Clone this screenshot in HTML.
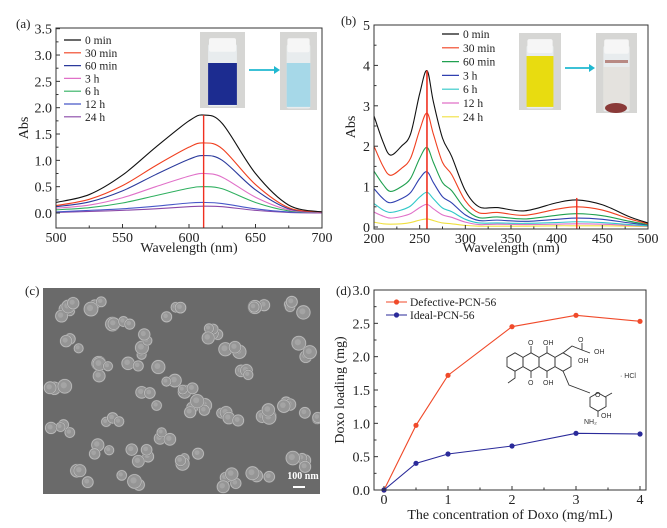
<!DOCTYPE html>
<html><head><meta charset="utf-8">
<style>
html,body{margin:0;padding:0;background:#fff;}
svg{display:block;font-family:"Liberation Serif",serif;}
</style></head>
<body>
<svg id="fig" width="667" height="528" viewBox="0 0 667 528" xmlns="http://www.w3.org/2000/svg">
 <g id="pa"></g>
 <g id="pb"></g>
 <g id="pc"></g>
 <g id="pd"></g>
</svg>
<script>
// ---------- Panel (a) data ----------
const aWave = [500,525,550,575,600,611,625,650,675,700];
const aLabels = ["0 min","30 min","60 min","3 h","6 h","12 h","24 h"];
const aColors = ["#111","#f04020","#2b3a9c","#e070c8","#30b060","#4858c8","#8a48a8"];
const aS0 = [.2,.35,.72,1.25,1.75,1.86,1.7,.75,.15,.02];
const aS1 = [.14,.26,.52,.9,1.25,1.33,1.22,.54,.1,.02];
const aS2 = [.12,.21,.42,.73,1.02,1.09,1.0,.44,.08,.02];
const aS3 = [.09,.15,.29,.5,.7,.75,.68,.3,.06,.01];
const aS4 = [.06,.1,.19,.33,.47,.5,.46,.2,.04,.01];
const aS5 = [.02,.05,.08,.13,.19,.2,.18,.08,.02,.01];
const aS6 = [.01,.03,.05,.08,.12,.13,.12,.05,.01,0];
const aXTicks = [500,550,600,650,700];
const aYTicks = [0,0.5,1,1.5,2,2.5,3,3.5];
// ---------- Panel (b) data ----------
const bWave = [200,210,218,230,240,250,258,265,275,285,300,315,335,365,400,422,450,480,500];
const bLabels = ["0 min","30 min","60 min","3 h","6 h","12 h","24 h"];
const bColors = ["#111","#f04020","#20a050","#3040b0","#30c8c8","#e070c8","#f0e040"];
const bS0 = [2.75,2.1,1.78,2.0,2.3,3.3,3.87,3.1,2.2,1.75,0.9,0.5,0.48,0.4,0.6,0.67,0.55,0.25,0.1];
const bS1 = [2.0,1.5,1.28,1.45,1.7,2.4,2.82,2.3,1.6,1.3,0.65,0.35,0.36,0.29,0.44,0.5,0.42,0.2,0.08];
const bS2 = [1.38,1.05,0.88,1.0,1.2,1.7,1.97,1.6,1.1,0.9,0.45,0.23,0.25,0.2,0.29,0.33,0.28,0.14,0.06];
const bS3 = [0.95,0.7,0.6,0.7,0.85,1.2,1.37,1.1,0.75,0.6,0.3,0.16,0.17,0.14,0.19,0.22,0.19,0.1,0.05];
const bS4 = [0.58,0.42,0.36,0.42,0.52,0.74,0.86,0.7,0.47,0.38,0.19,0.1,0.1,0.09,0.11,0.13,0.11,0.06,0.03];
const bS5 = [0.37,0.27,0.22,0.26,0.33,0.48,0.56,0.45,0.3,0.24,0.12,0.06,0.07,0.06,0.07,0.08,0.07,0.04,0.02];
const bS6 = [0.12,0.08,0.07,0.08,0.11,0.17,0.2,0.16,0.1,0.08,0.04,0.02,0.02,0.02,0.03,0.03,0.03,0.02,0.01];
const bXTicks = [200,250,300,350,400,450,500];
const bYTicks = [0,1,2,3,4,5];
// ---------- Panel (d) data ----------
const dConc = [0,0.5,1,2,3,4];
const dDefective = [0,0.97,1.72,2.45,2.62,2.53];
const dIdeal = [0,0.40,0.54,0.66,0.85,0.84];
const dXTicks = [0,1,2,3,4];
const dYTicks = [0,0.5,1,1.5,2,2.5,3];

const NS="http://www.w3.org/2000/svg";
function mk(parent,tag,attrs,text){const e=document.createElementNS(NS,tag);for(const k in attrs)e.setAttribute(k,attrs[k]);if(text!==undefined)e.textContent=text;parent.appendChild(e);return e;}
function scale(d0,d1,r0,r1){return v=>r0+(v-d0)/(d1-d0)*(r1-r0);}
function smooth(pts){let d="M"+pts[0][0]+","+pts[0][1];for(let i=0;i<pts.length-1;i++){const p0=pts[Math.max(0,i-1)],p1=pts[i],p2=pts[i+1],p3=pts[Math.min(pts.length-1,i+2)];const c1=[p1[0]+(p2[0]-p0[0])/6,p1[1]+(p2[1]-p0[1])/6],c2=[p2[0]-(p3[0]-p1[0])/6,p2[1]-(p3[1]-p1[1])/6];d+=" C"+c1[0].toFixed(2)+","+c1[1].toFixed(2)+" "+c2[0].toFixed(2)+","+c2[1].toFixed(2)+" "+p2[0].toFixed(2)+","+p2[1].toFixed(2);}return d;}
function fmt(v,dec){return v.toFixed(dec);}

function axes(g,o){
  const {x0,x1,y0,y1,sx,sy,xt,yt,xdec,ydec,xtitle,ytitle,ytx,xty,xly}=o;
  const frame=mk(g,'rect',{x:x0,y:y0,width:x1-x0,height:y1-y0,fill:'none',stroke:'#333','stroke-width':1});
  
  
  xt.forEach((v,i)=>{const x=sx(v);
    const t=mk(g,'line',{x1:x,x2:x,y1:y1,y2:y1-4,stroke:'#333'});
    
    
    if(i<xt.length-1){const xm=sx((v+xt[i+1])/2);mk(g,'line',{x1:xm,x2:xm,y1:y1,y2:y1-2.5,stroke:'#333'});}
    const l=mk(g,'text',{x:x,y:y1+xly,'text-anchor':'middle','font-size':14,fill:'#222'},fmt(v,xdec));
    
    
  });
  yt.forEach((v,i)=>{const y=sy(v);
    const t=mk(g,'line',{x1:x0,x2:x0+4,y1:y,y2:y,stroke:'#333'});
    
    
    if(i<yt.length-1){const ym=sy((v+yt[i+1])/2);mk(g,'line',{x1:x0,x2:x0+2.5,y1:ym,y2:ym,stroke:'#333'});}
    const l=mk(g,'text',{x:x0-4,y:y+5,'text-anchor':'end','font-size':14,fill:'#222'},fmt(v,ydec));
    
    
  });
  const xtl=mk(g,'text',{x:(x0+x1)/2,y:xty,'text-anchor':'middle','font-size':14,fill:'#222'},xtitle);
  
  
  const ytl=mk(g,'text',{x:0,y:0,'text-anchor':'middle','font-size':14,fill:'#222',transform:`translate(${ytx},${(y0+y1)/2}) rotate(-90)`},ytitle);
  
  
}
function legend(g,labels,colors,x,y,dy,lw){
  labels.forEach((lab,i)=>{
    const row=mk(g,'g',{});
    
    
    mk(row,'line',{x1:x,x2:x+lw,y1:y+i*dy,y2:y+i*dy,stroke:colors[i],'stroke-width':1.2});
    mk(row,'text',{x:x+lw+4,y:y+i*dy+4,'font-size':11.5,fill:'#222'},lab);
  });
}
function vial(g,x,y,w,h,liquid,top,name){
  const v=mk(g,'g',{});
  
  
  mk(v,'rect',{x:x,y:y,width:w,height:h,fill:'#d6d6d4'});
  mk(v,'rect',{x:x+w*0.18,y:y+h*0.16,width:w*0.64,height:h*0.82,fill:'#e8ecee',rx:2});
  mk(v,'rect',{x:x+w*0.2,y:y+h*0.08,width:w*0.6,height:h*0.18,fill:'#f6f6f6',rx:2});
  mk(v,'rect',{x:x+w*0.18,y:y+top,width:w*0.64,height:h*0.96-top,fill:liquid});
}

// ---------- Panel a ----------
(function(){
  const g=document.getElementById('pa');
  const x0=56,x1=322,y0=28,y1=228;
  const sx=scale(500,700,x0,x1), sy=scale(0,3.5,213,28.7);
  vial(g,200,32,45,76,'#1c2c90',31,'photo-before-blue');
  vial(g,280,32,37,78,'#a6d8e8',31,'photo-after-blue');
  const ar=mk(g,'g',{});
  mk(ar,'line',{x1:249,x2:275,y1:70,y2:70,stroke:'#20b8d0','stroke-width':1.8});
  mk(ar,'path',{d:'M274,66 L280,70 L274,74 Z',fill:'#20b8d0'});
  const series=[aS0,aS1,aS2,aS3,aS4,aS5,aS6];
  series.slice().reverse().forEach((s,ri)=>{const i=series.length-1-ri;
    const p=mk(g,'path',{d:smooth(aWave.map((w,j)=>[sx(w),sy(s[j])])),fill:'none',stroke:aColors[i],'stroke-width':1.1});
    
    
  });
  const rl=mk(g,'line',{x1:sx(611),x2:sx(611),y1:sy(aS0[5]),y2:y1,stroke:'#f03020','stroke-width':1.4});
  
  
  axes(g,{x0,x1,y0,y1,sx,sy,xt:aXTicks,yt:aYTicks,xdec:0,ydec:1,xtitle:'Wavelength (nm)',ytitle:'Abs',ytx:28,xty:252,xly:14});
  legend(g,aLabels,aColors,64,40,12.8,17);
  const lab=mk(g,'text',{x:16,y:28,'font-size':13,fill:'#222'},'(a)');
  
})();

// ---------- Panel b ----------
(function(){
  const g=document.getElementById('pb');
  const x0=374,x1=648,y0=25,y1=229;
  const sx=scale(200,500,x0,x1), sy=scale(0,5,227,25);
  vial(g,519,33,42,77,'#e8dc10',23,'photo-before-yellow');
  vial(g,596,33,41,80,'#e4e2de',34,'photo-after-red');
  mk(g,'ellipse',{cx:616,cy:108,rx:11,ry:5,fill:'#8a3a38'});
  mk(g,'rect',{x:605,y:60,width:23,height:3,fill:'#b88a84'});
  const ar=mk(g,'g',{});
  mk(ar,'line',{x1:565,x2:590,y1:68,y2:68,stroke:'#20b8d0','stroke-width':1.8});
  mk(ar,'path',{d:'M589,64 L595,68 L589,72 Z',fill:'#20b8d0'});
  const series=[bS0,bS1,bS2,bS3,bS4,bS5,bS6];
  series.slice().reverse().forEach((s,ri)=>{const i=series.length-1-ri;
    const p=mk(g,'path',{d:smooth(bWave.map((w,j)=>[sx(w),sy(s[j])])),fill:'none',stroke:bColors[i],'stroke-width':1.1});
    
    
  });
  const r1=mk(g,'line',{x1:sx(258),x2:sx(258),y1:sy(bS0[6]),y2:y1,stroke:'#f03020','stroke-width':1.6});
  
  const r2=mk(g,'line',{x1:sx(422),x2:sx(422),y1:sy(bS0[15])-2,y2:y1,stroke:'#f03020','stroke-width':1.4});
  
  axes(g,{x0,x1,y0,y1,sx,sy,xt:bXTicks,yt:bYTicks,xdec:0,ydec:0,xtitle:'Wavelength (nm)',ytitle:'Abs',ytx:355,xty:252,xly:14});
  legend(g,bLabels,bColors,442,34,13.8,17);
  const lab=mk(g,'text',{x:341,y:25,'font-size':13,fill:'#222'},'(b)');
  
})();

// ---------- Panel c (SEM image) ----------
(function(){
  const g=document.getElementById('pc');
  const x0=43,y0=288,w=277,h=206;
  mk(g,'rect',{x:x0,y:y0,width:w,height:h,fill:'#6a6a6a'});
  const clip=mk(g,'clipPath',{id:'semclip'});mk(clip,'rect',{x:x0,y:y0,width:w,height:h});
  const pg=mk(g,'g',{'clip-path':'url(#semclip)'});
  // approximate cluster centres of particles (image texture, not data)
  const clusters=[[70,310,5],[100,302,3],[120,325,4],[175,310,3],[210,335,5],[255,308,3],[230,345,4],[60,390,4],[100,370,4],[135,360,3],
   [150,400,4],[190,395,3],[200,408,5],[230,420,4],[270,410,4],[300,350,3],[285,400,3],[60,430,4],[100,450,3],[140,455,4],
   [165,440,3],[190,460,4],[80,475,3],[130,480,3],[230,480,4],[260,475,3],[300,460,4],[310,420,3],[145,340,3],[245,375,3],
   [300,305,4],[165,375,3],[110,420,3],[75,345,3]];
  let seed=7;function rnd(){seed=(seed*9301+49297)%233280;return seed/233280;}
  clusters.forEach(c=>{for(let k=0;k<c[2];k++){
    const cx=c[0]+(rnd()-0.5)*20, cy=c[1]+(rnd()-0.5)*16, r=4.5+rnd()*2.5;
    mk(pg,'circle',{cx:cx,cy:cy,r:r+0.8,fill:'#7e7e7e'});
    mk(pg,'circle',{cx:cx,cy:cy,r:r,fill:'#959595',stroke:'#bdbdbd','stroke-width':0.8});
    mk(pg,'circle',{cx:cx-1,cy:cy-1,r:r*0.45,fill:'#a4a4a4'});
  }});
  const sb=mk(g,'text',{x:303,y:479,'text-anchor':'middle','font-size':10,'font-weight':'bold',fill:'#fff'},'100 nm');
  
  const sl=mk(g,'line',{x1:293,x2:305,y1:487,y2:487,stroke:'#fff','stroke-width':2});
  
  const lab=mk(g,'text',{x:25,y:295,'font-size':13,fill:'#222'},'(c)');
  
})();

// ---------- Panel d ----------
(function(){
  const g=document.getElementById('pd');
  const x0=374,x1=646,y0=290,y1=490;
  const sx=scale(0,4,384,640), sy=scale(0,3,490,290);
  // molecule (decorative)
  const m=mk(g,'g',{stroke:'#333','stroke-width':0.9,fill:'none'});
  
  function hex(cx,cy,r){let d='';for(let k=0;k<6;k++){const a=Math.PI/6+k*Math.PI/3;d+=(k?'L':'M')+(cx+r*Math.cos(a)).toFixed(1)+','+(cy+r*Math.sin(a)).toFixed(1);}return d+'Z';}
  [515,531,547,563].forEach(cx=>mk(m,'path',{d:hex(cx,362,9.2)}));
  mk(m,'path',{d:hex(598,402,9.2)});
  mk(m,'path',{d:'M531,353 L531,346 M531,371 L531,378 M547,353 L547,346 M547,371 L547,378 M563,353 L572,346 L582,350 L582,343 M582,350 L590,353 M563,371 L569,385 L590,393 M515,371 L515,378 L508,383 M605,397 L612,393 M598,411 L598,417'});
  const t=(x,y,s)=>{const e=mk(g,'text',{x:x,y:y,'font-size':7,'font-family':'Liberation Sans, sans-serif',fill:'#333'},s);};
  t(528,345,'O');t(528,385,'O');t(543,345,'OH');t(543,385,'OH');t(578,342,'O');t(594,354,'OH');t(578,363,'OH');
  t(595,397,'O');t(601,418,'OH');t(584,424,'NH₂');t(620,378,'· HCl');
  const series=[[dDefective,'#f04a2a','defective-pcn-56'],[dIdeal,'#2a2a9a','ideal-pcn-56']];
  series.forEach(([s,c,n])=>{
    const pts=dConc.map((v,i)=>[sx(v),sy(s[i])]);
    const l=mk(g,'polyline',{points:pts.map(p=>p.join(',')).join(' '),fill:'none',stroke:c,'stroke-width':1.1});
    
    pts.forEach(p=>{const ci=mk(g,'circle',{cx:p[0],cy:p[1],r:2.6,fill:c});
      });
  });
  axes(g,{x0,x1,y0,y1,sx,sy,xt:dXTicks,yt:dYTicks,xdec:0,ydec:1,xtitle:'The concentration of Doxo (mg/mL)',ytitle:'Doxo loading (mg)',ytx:344,xty:519,xly:14});
  [['Defective-PCN-56','#f04a2a'],['Ideal-PCN-56','#2a2a9a']].forEach(([lab,c],i)=>{
    const row=mk(g,'g',{});
    const y=302+i*13;
    mk(row,'line',{x1:386,x2:407,y1:y,y2:y,stroke:c,'stroke-width':1.1});
    mk(row,'circle',{cx:396.5,cy:y,r:2.6,fill:c});
    mk(row,'text',{x:410,y:y+4,'font-size':11.5,fill:'#222'},lab);
  });
  const lab=mk(g,'text',{x:336,y:295,'font-size':13,fill:'#222'},'(d)');
  
})();
</script>
</body></html>
